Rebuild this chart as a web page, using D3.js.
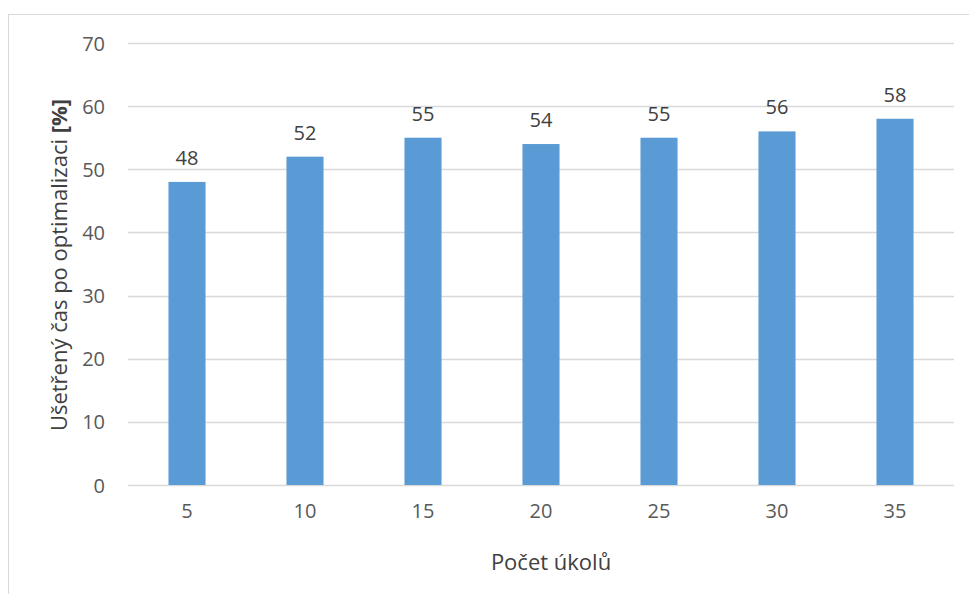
<!DOCTYPE html>
<html><head><meta charset="utf-8">
<script src="https://cdn.jsdelivr.net/npm/d3@7"></script>
<style>
html,body{margin:0;padding:0;background:#fff;}
svg{display:block;font-family:"Open Sans","Noto Sans",sans-serif;}
</style></head><body>
<svg id="c" width="969" height="594"></svg>
<script>
const categories = ["5","10","15","20","25","30","35"];
const values = [48,52,55,54,55,56,58];
const yTicks = [0,10,20,30,40,50,60,70];
const xTitle = "Počet úkolů";
const yTitle = "Ušetřený čas po optimalizaci ";
const yTitleBold = "[%]";

const svg = d3.select("#c");
svg.append("rect").attr("x",8.5).attr("y",14.5).attr("width",1100).attr("height",700)
  .attr("fill","#fff").attr("stroke","#d9d9d9").attr("stroke-width",1);

const L=128, R=954, T=43, B=485;
const y = d3.scaleLinear().domain([0,70]).range([B,T]);
const x = d3.scaleBand().domain(categories).range([L,R]).paddingInner(0.686).paddingOuter(0.343);

// gridlines
svg.append("g").selectAll("line").data(yTicks).join("line")
  .attr("x1",L).attr("x2",R).attr("y1",d=>Math.round(y(d))+0.5).attr("y2",d=>Math.round(y(d))+0.5)
  .attr("stroke","#d9d9d9").attr("stroke-width",1.3);

// y axis labels
const yAxis = d3.axisLeft(y).tickValues(yTicks).tickSize(0).tickPadding(0);
const gy = svg.append("g").attr("transform",`translate(${105},0)`).call(yAxis);
gy.select(".domain").remove();
gy.selectAll("text").attr("font-size",20).attr("fill","#595959").attr("font-family","'Open Sans','Noto Sans',sans-serif").attr("dy","0.35em");

// x axis labels
const xAxis = d3.axisBottom(x).tickSize(0).tickPadding(0);
const gx = svg.append("g").attr("transform",`translate(0,${504})`).call(xAxis);
gx.select(".domain").remove();
gx.selectAll("text").attr("font-size",20).attr("fill","#595959").attr("font-family","'Open Sans','Noto Sans',sans-serif").attr("dy","0.71em");

// bars
svg.append("g").selectAll("rect").data(values).join("rect")
  .attr("x",(d,i)=>x(categories[i])).attr("width",x.bandwidth())
  .attr("y",d=>y(d)).attr("height",d=>y(0)-y(d))
  .attr("fill","#5b9bd5");

// data labels
svg.append("g").selectAll("text").data(values).join("text")
  .attr("x",(d,i)=>x(categories[i])+x.bandwidth()/2).attr("y",d=>y(d)-17)
  .attr("text-anchor","middle").attr("font-size",20).attr("fill","#404040").text(d=>d);

// x title
svg.append("text").attr("x",551).attr("y",570).attr("text-anchor","middle")
  .attr("font-size",22).attr("fill","#404040").text(xTitle);

// y title
const yt = svg.append("text").attr("transform",`translate(67,265) rotate(-90)`).attr("text-anchor","middle")
  .attr("font-size",22).attr("fill","#404040");
yt.append("tspan").text(yTitle);
yt.append("tspan").attr("font-weight","bold").text(yTitleBold);
</script>
</body></html>
